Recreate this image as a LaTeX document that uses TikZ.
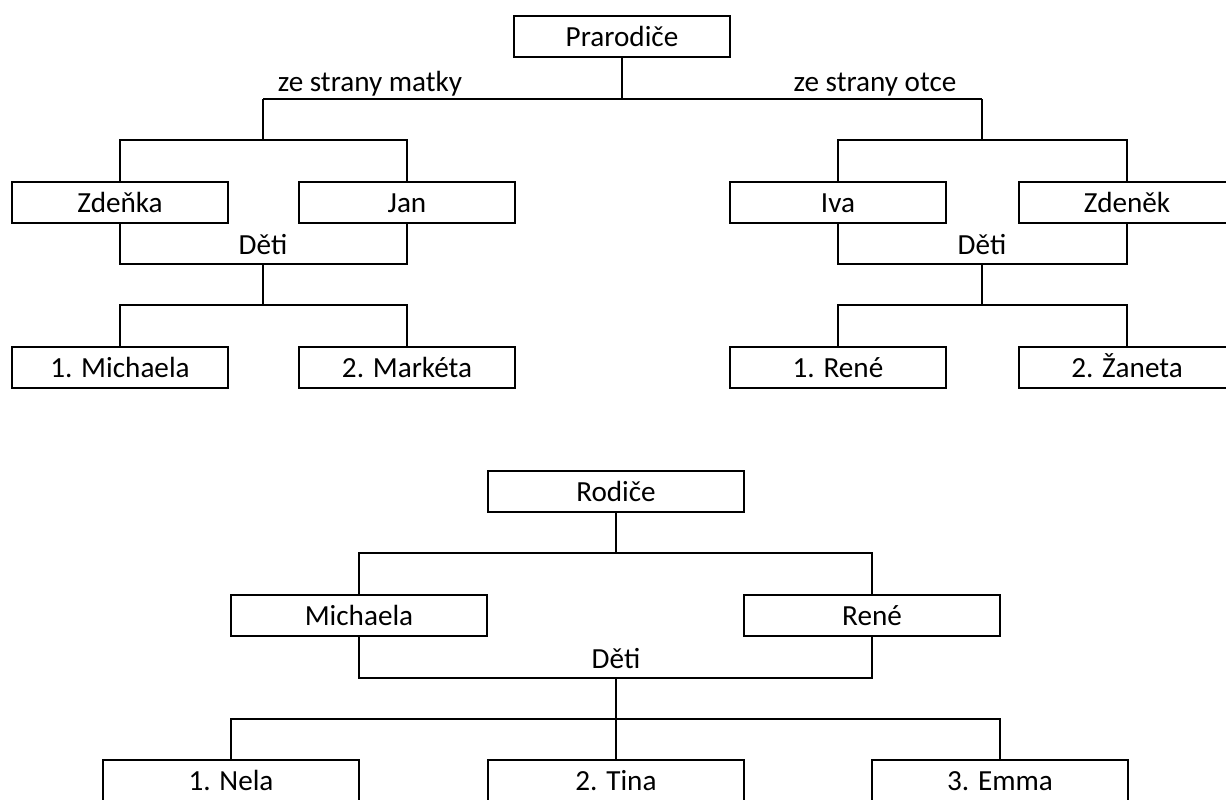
\documentclass[tikz,border=0pt]{standalone}
\usepackage{fontspec}
\setmainfont{Carlito}
\usepackage{tikz}
\usetikzlibrary{positioning}
\tikzstyle{person} = [draw, rectangle, line width=1.1pt, inner sep=0pt,
minimum height=0.82cm, minimum width=4.32cm, text height=0.40cm, text depth=0pt]
\tikzstyle{wide} = [person, minimum width=5.12cm]
\tikzstyle{tag} = [anchor=base, inner sep=0pt]
\tikzstyle{spoj} = [coordinate]

\begin{document}
\begin{tikzpicture}[node distance=3.3cm, line width=1.1pt,
  font=\fontsize{16.6}{19}\selectfont]
	\useasboundingbox (0,0) rectangle (24.52,-15.98);
	% Prarodice and the two sides of the family
	\node [person] (prarodice) at (12.44,-0.73) {Prarodiče};
	\node [spoj] (matka) at (5.26,-1.98) {};
	\node [spoj] (otec) at (19.64,-1.98) {};
	\node [spoj] (matkaspoj) at (5.26,-2.80) {};
	\node [spoj] (otecspoj) at (19.64,-2.80) {};
	\node [tag] at (7.40,-1.82) {ze strany matky};
	\node [tag] at (17.50,-1.82) {ze strany otce};
	
	% mother's side
	\node [person] (zdenka) at (2.40,-4.05) {Zdeňka};
	\node [person, right of=zdenka, node distance=5.74cm] (jan) {Jan};
	\node [person, below of=zdenka] (vnuk1) {1. Michaela};
	\node [person, right of=vnuk1, node distance=5.74cm] (vnuk2) {2. Markéta};
	\node [spoj] (detiM) at (5.26,-5.28) {};
	\node [spoj] (detiMspoj) at (5.26,-6.10) {};
	\node [tag] at (5.26,-5.08) {Děti};
	
	% father's side
	\node [person] (iva) at (16.76,-4.05) {Iva};
	\node [person, right of=iva, node distance=5.78cm] (zdenek) {Zdeněk};
	\node [person, below of=iva] (vnuk3) {1. René};
	\node [person, right of=vnuk3, node distance=5.78cm] (vnuk4) {2. Žaneta};
	\node [spoj] (detiO) at (19.64,-5.28) {};
	\node [spoj] (detiOspoj) at (19.64,-6.10) {};
	\node [tag] at (19.64,-5.08) {Děti};
	
	% connecting the upper tree
	\draw (prarodice) |- (matka);
	\draw (prarodice) |- (otec);
	\draw (matka) -- (matkaspoj);
	\draw (otec) -- (otecspoj);
	\draw (zdenka) |- (matkaspoj) -| (jan);
	\draw (iva) |- (otecspoj) -| (zdenek);
	\draw (zdenka) |- (detiM) -| (jan);
	\draw (iva) |- (detiO) -| (zdenek);
	\draw (detiM) -- (detiMspoj);
	\draw (detiO) -- (detiOspoj);
	\draw (vnuk1) |- (detiMspoj) -| (vnuk2);
	\draw (vnuk3) |- (detiOspoj) -| (vnuk4);
	
	% Rodice
	\node [wide] (rodice) at (12.32,-9.83) {Rodiče};
	\node [wide] (michaela) at (7.18,-12.31) {Michaela};
	\node [wide, right of=michaela, node distance=10.26cm] (rene) {René};
	\node [wide] (nela) at (4.62,-15.61) {1. Nela};
	\node [wide, right of=nela, node distance=7.70cm] (tina) {2. Tina};
	\node [wide, right of=tina, node distance=7.68cm] (emma) {3. Emma};
	\node [spoj] (rodicespoj) at (12.32,-11.06) {};
	\node [spoj] (deti) at (12.32,-13.56) {};
	\node [spoj] (detispoj) at (12.32,-14.38) {};
	\node [tag] at (12.32,-13.37) {Děti};
	
	\draw (rodice) -- (rodicespoj);
	\draw (michaela) |- (rodicespoj) -| (rene);
	\draw (michaela) |- (deti) -| (rene);
	\draw (deti) -- (detispoj);
	\draw (nela) |- (detispoj) -| (emma);
	\draw (tina) -- (detispoj);
\end{tikzpicture}
\end{document}
